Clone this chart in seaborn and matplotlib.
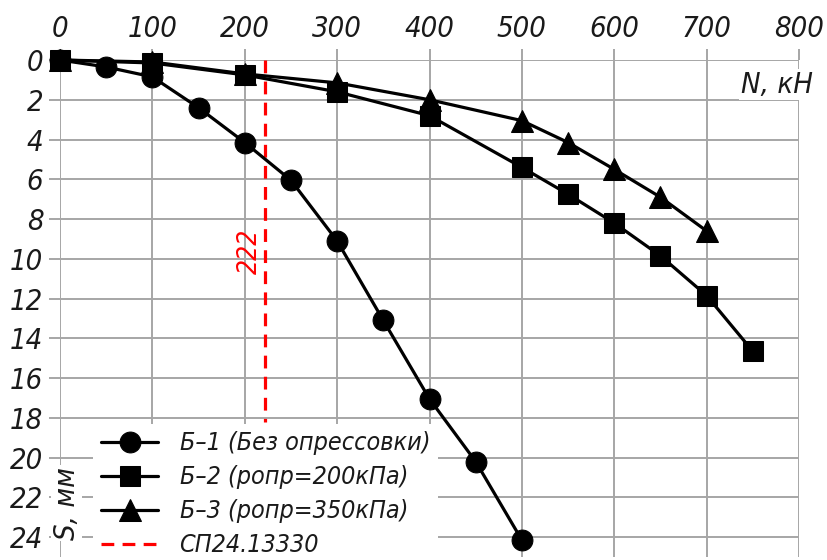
import matplotlib
matplotlib.use("Agg")
import matplotlib.pyplot as plt
import seaborn as sns
import pandas as pd

# ---- data ----
n_b1 = [0, 50, 100, 150, 200, 250, 300, 350, 400, 450, 500]
s_b1 = [0, 0.35, 0.85, 2.4, 4.15, 6.05, 9.1, 13.1, 17.05, 20.2, 24.15]
n_b2 = [0, 100, 200, 300, 400, 500, 550, 600, 650, 700, 750]
s_b2 = [0, 0.15, 0.75, 1.6, 2.8, 5.4, 6.75, 8.2, 9.85, 11.85, 14.65]
n_b3 = [0, 100, 200, 300, 400, 500, 550, 600, 650, 700]
s_b3 = [0, 0.1, 0.7, 1.15, 2.0, 3.05, 4.15, 5.5, 6.9, 8.6]
labels = ["Б–1 (Без опрессовки)", "Б–2 (pопр=200кПа)", "Б–3 (pопр=350кПа)"]
markers = ["o", "s", "^"]
limit_n = 222
limit_label = "СП24.13330"
x_ticks = [0, 100, 200, 300, 400, 500, 600, 700, 800]
y_ticks = [0, 2, 4, 6, 8, 10, 12, 14, 16, 18, 20, 22, 24]

sns.set_theme(style="white")
plt.rcParams['font.family'] = ['DejaVu Sans']
plt.rcParams['font.stretch'] = 'condensed'
plt.rcParams['font.style'] = 'italic'

fig = plt.figure(figsize=(8.27, 5.6), dpi=100)
ax = fig.add_axes([60 / 827, 3 / 560, (799 - 60) / 827, (557 - 60) / 560])

frames = []
for n, s, lab in zip([n_b1, n_b2, n_b3], [s_b1, s_b2, s_b3], labels):
    frames.append(pd.DataFrame({"N": n, "S": s, "series": lab}))
df = pd.concat(frames, ignore_index=True)

for lab, mk in zip(labels, markers):
    sub = df[df["series"] == lab]
    sns.lineplot(data=sub, x="N", y="S", ax=ax, color="black", marker=mk,
                 markersize=16 if mk == "^" else 15, markeredgecolor="black",
                 linewidth=2.3, sort=False, estimator=None, label=lab, zorder=4,
                 clip_on=False)

ax.plot([limit_n, limit_n], [0, 18.2], color="#ff0000", linestyle=(0, (4, 2.6)),
        linewidth=2.3, label=limit_label, zorder=3)
ax.text(limit_n - 16, 9.6, str(limit_n), color="#ff0000", rotation=90,
        ha="center", va="center", fontsize=19, style="italic", fontstretch="condensed")

ax.set_xlim(0, 800)
ax.set_ylim(25, 0)
ax.set_xticks(x_ticks)
ax.set_yticks(y_ticks)
ax.xaxis.tick_top()
ax.grid(True, color="#a6a6a6", linewidth=1.4)
for sp in ax.spines.values():
    sp.set_visible(False)
ax.tick_params(axis="both", length=8, width=1.4, color="#a6a6a6",
               labelsize=21, labelcolor="#1a1a1a", pad=4)
ax.tick_params(axis="x", top=True, bottom=False, labeltop=True, labelbottom=False)
ax.tick_params(axis="y", left=True)
for t in ax.get_xticklabels() + ax.get_yticklabels():
    t.set_style("italic")
    t.set_fontstretch("condensed")
ax.set_xlabel("")
ax.set_ylabel("")

ax.text(776, 1.25, "N, кН", fontsize=21, style="italic", fontstretch="condensed",
        ha="center", va="center", color="#1a1a1a",
        bbox=dict(facecolor="white", edgecolor="none", pad=1), zorder=5)
ax.text(7.5, 22.3, "S, мм", fontsize=21, style="italic", fontstretch="condensed",
        rotation=90, ha="center", va="center", color="#1a1a1a",
        bbox=dict(facecolor="white", edgecolor="none", pad=1), zorder=5)

leg = ax.legend(loc="lower left", bbox_to_anchor=(0.045, -0.016),
                prop=dict(size=18, style="italic", stretch="condensed"),
                frameon=True, facecolor="white", edgecolor="none", framealpha=1,
                handlelength=2.3, labelspacing=0.4, borderpad=0.3,
                handletextpad=0.85, borderaxespad=0)
for t in leg.get_texts():
    t.set_color("#1a1a1a")
leg.set_zorder(6)

fig.savefig("out.png", dpi=100)
